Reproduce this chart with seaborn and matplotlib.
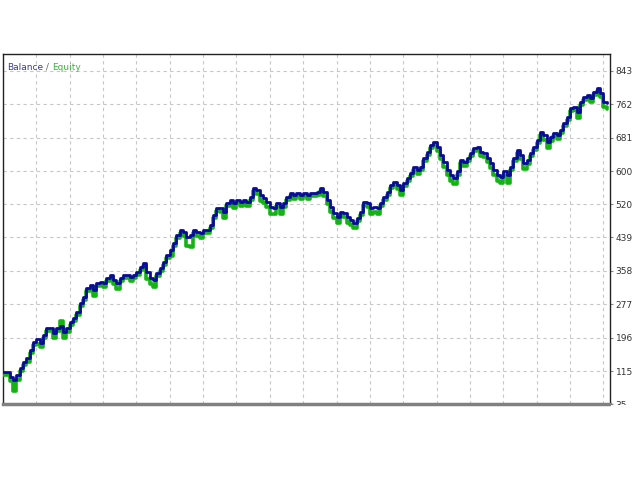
import matplotlib
matplotlib.use("Agg")
import matplotlib.pyplot as plt
from matplotlib.patches import Rectangle
import pandas as pd
import seaborn as sns

# balance after each closed trade
balance = [
    113, 113, 101, 94, 106, 123, 138, 147, 167, 186, 193, 184, 203, 220, 220, 208, 220,
    225, 210, 220, 234, 244, 259, 281, 295, 317, 324, 312, 329, 332, 329, 341, 348,
    336, 329, 341, 348, 348, 343, 348, 356, 368, 378, 356, 341, 336, 353, 365, 380,
    397, 409, 426, 445, 458, 453, 441, 445, 458, 453, 450, 458, 458, 470,
    494, 511, 511, 501, 523, 530, 523, 530, 526, 530, 526, 538, 559, 555, 542, 535,
    526, 513, 511, 523, 513, 523, 538, 547, 542, 547, 542, 547, 542, 547,
    547, 550, 559, 550, 530, 513, 499, 489, 501, 499, 489, 482, 475, 487, 501, 526,
    523, 511, 513, 511, 523, 538, 550, 567, 574, 567, 555, 572, 584, 596,
    611, 603, 611, 632, 647, 664, 671, 659, 640, 623, 603, 591, 584, 599, 628, 623,
    632, 645, 657, 659, 647, 645, 632, 620, 603, 591, 586, 599, 591, 611,
    632, 652, 640, 620, 628, 645, 659, 676, 695, 688, 671, 683, 693, 688, 700, 717,
    732, 754, 756, 744, 768, 780, 785, 778, 792, 802, 790, 768, 765,
]

# floating drawdown of equity under balance for each trade (negative = above)
equity_dd = [
    8, 8, 10, 28, 12, 8, 8, 10, 8, 8, 12, 10, 8, 8, 8, 12, 8,
    -12, 14, 10, 8, 8, 8, 8, 8, 8, 10, 14, 8, 8, 10, 8, 8,
    10, 14, 8, 8, 8, 10, 8, 8, 8, 8, 18, 14, 16, 8, 8, 8,
    8, 14, 8, 8, 8, 10, 22, 28, 8, 10, 12, 8, 8, 8,
    8, 8, 10, 16, 8, 8, 12, 8, 10, 8, 10, 8, 8, 10, 14, 12,
    14, 18, 16, 8, 16, 10, 8, 8, 10, 8, 10, 8, 10, 8,
    8, 8, 8, 10, 10, 12, 14, 16, 8, 10, 16, 14, 14, 8, 8, 8,
    10, 16, 12, 14, 8, 8, 8, 8, 8, 10, 14, 8, 8, 8,
    8, 10, 8, 8, 8, 8, 8, 10, 10, 12, 12, 14, 16, 8, 8, 10,
    8, 8, 8, 8, 10, 10, 10, 12, 12, 14, 16, 8, 20, 8,
    8, 8, 10, 14, 10, 8, 8, 8, 8, 12, 16, 10, 8, 10, 8, 8,
    8, 8, 8, 15, 8, 8, 8, 10, 8, 8, 10, 12, 14,
]

ytick_labels = ["35", "115", "196", "277", "358", "439", "520", "600", "681", "762", "843"]

df = pd.DataFrame({"trade": range(len(balance)), "balance": balance})
df["equity"] = df["balance"] - pd.Series(equity_dd)

sns.set_style("white")
plt.rcParams["font.family"] = ["DejaVu Sans"]

fig = plt.figure(figsize=(6.4, 4.8), dpi=100)
ax = fig.add_axes([3 / 640, 76 / 480, 607 / 640, 350 / 480])

sns.lineplot(data=df, x="trade", y="equity", color="#12b312", linewidth=2.6,
             drawstyle="steps-post", ax=ax, zorder=3)
sns.lineplot(data=df, x="trade", y="balance", color="#0a0a9c", linewidth=2.0,
             drawstyle="steps-post", ax=ax, zorder=4)

ax.set_xlim(0, 182)
ax.set_ylim(35, 884)
ax.set_xticks(range(0, 181, 10))
ax.set_yticks([int(v) for v in ytick_labels])
ax.set_yticklabels(ytick_labels)
ax.set_xlabel("")
ax.set_ylabel("")

ax.yaxis.tick_right()
ax.tick_params(axis="y", right=True, length=2, width=0.8, color="#888888",
               labelsize=6.5, labelcolor="#333333", pad=2)
ax.tick_params(axis="x", bottom=False, labelbottom=False)
ax.grid(True, color="#c8c8c8", linestyle=(0, (3, 3)), linewidth=0.8)

for side in ["top", "left", "right"]:
    ax.spines[side].set_color("#222222")
    ax.spines[side].set_linewidth(1.0)
ax.spines["bottom"].set_color("#808080")
ax.spines["bottom"].set_linewidth(2.5)

# coloured caption in the upper left corner
t1 = ax.text(0.007, 0.975, "Balance", transform=ax.transAxes, fontsize=6.5,
             color="#3a3a9e", va="top", ha="left")
t2 = ax.annotate(" / ", xy=(1, 0), xycoords=t1, va="bottom", fontsize=6.5, color="#666666")
ax.annotate("Equity", xy=(1, 0), xycoords=t2, va="bottom", fontsize=6.5, color="#3cb43c")

# white band under the chart hides half of the lowest label, as in the terminal
fig.patches.append(Rectangle((0.955, 0), 0.05, 75 / 480, transform=fig.transFigure,
                             facecolor="white", edgecolor="none", zorder=10))

fig.savefig("out.png", dpi=100)
